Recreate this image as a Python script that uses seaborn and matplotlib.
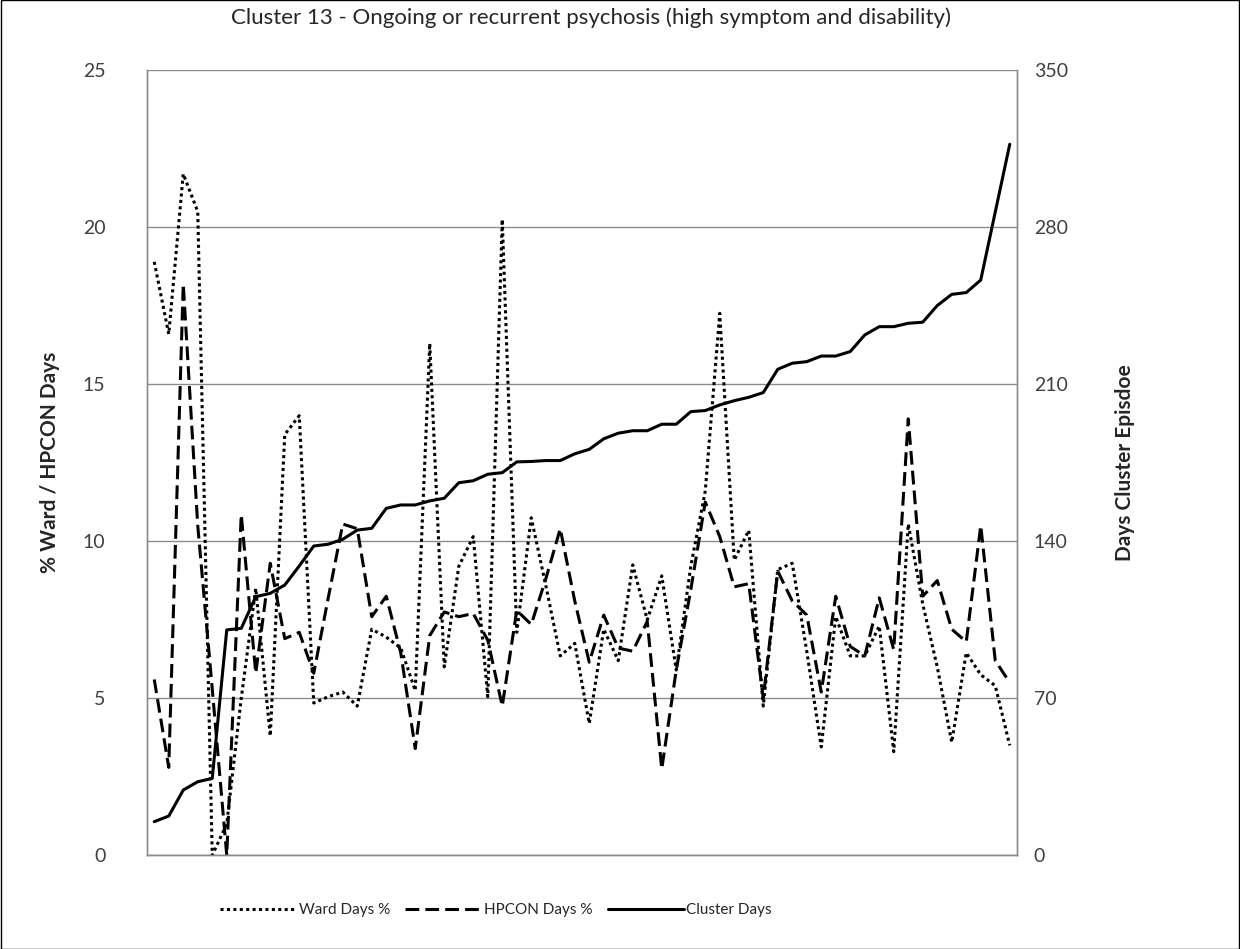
import numpy as np
import pandas as pd
import matplotlib
matplotlib.use("Agg")
import matplotlib.pyplot as plt
import seaborn as sns
from matplotlib.lines import Line2D
from matplotlib.patches import Rectangle

title = "Cluster 13 - Ongoing or recurrent psychosis (high symptom and disability)"
left_label = "% Ward / HPCON Days"
right_label = "Days Cluster Episdoe"
series_names = ["Ward Days %", "HPCON Days %", "Cluster Days"]

ward_days_pct = [18.9, 16.6, 21.7, 20.5, 0.0, 1.0, 5.0, 8.5, 3.8, 13.4,
                 14.0, 4.85, 5.05, 5.2, 4.75, 7.2, 6.95, 6.6, 5.25, 16.3,
                 6.0, 9.2, 10.15, 5.05, 20.25, 7.1, 10.75, 8.6, 6.35, 6.75,
                 4.2, 7.2, 6.2, 9.25, 7.5, 8.9, 5.9, 9.2, 11.6, 17.26,
                 9.4, 10.35, 4.75, 9.1, 9.3, 6.5, 3.45, 7.6, 6.35, 6.35,
                 7.3, 3.3, 10.55, 8.0, 6.0, 3.6, 6.45, 5.75, 5.4, 3.5]
hpcon_days_pct = [5.6, 2.8, 18.2, 10.5, 5.3, 0.0, 10.85, 5.8, 9.3, 6.9,
                  7.1, 5.8, 8.2, 10.55, 10.4, 7.6, 8.25, 6.45, 3.4, 7.0,
                  7.75, 7.6, 7.7, 6.85, 4.75, 7.8, 7.35, 8.8, 10.4, 8.1,
                  6.15, 7.65, 6.6, 6.5, 7.45, 2.75, 5.9, 8.45, 11.25, 10.15,
                  8.55, 8.65, 5.0, 9.05, 8.1, 7.65, 5.2, 8.25, 6.65, 6.35,
                  8.2, 6.55, 13.9, 8.25, 8.75, 7.2, 6.8, 10.5, 6.2, 5.5]
cluster_days = [15.0, 17.5, 29.1, 32.8, 34.3, 100.5, 101.2, 115.3, 116.8, 120.5,
                129.0, 137.9, 138.7, 140.9, 145.0, 145.8, 154.7, 156.2, 156.2, 158.0,
                159.2, 166.1, 167.0, 169.9, 170.6, 175.4, 175.6, 176.0, 176.0, 179.0,
                181.0, 185.7, 188.2, 189.3, 189.3, 192.2, 192.2, 197.8, 198.3, 200.8,
                202.7, 204.2, 206.3, 216.7, 219.4, 220.1, 222.6, 222.6, 224.6, 232.0,
                235.7, 235.7, 237.2, 237.7, 245.1, 250.1, 250.9, 256.5, 286.8, 317.0]
left_ticks = [0, 5, 10, 15, 20, 25]
right_ticks = [0, 70, 140, 210, 280, 350]

df = pd.DataFrame({
    "episode": np.arange(len(cluster_days)),
    "ward": ward_days_pct,
    "hpcon": hpcon_days_pct,
    "cluster": cluster_days,
})

sns.set_theme(style="white")
plt.rcParams["font.family"] = ["Lato", "DejaVu Sans"]

fig = plt.figure(figsize=(12.4, 9.49), dpi=100)
ax = fig.add_axes([147 / 1240, 1 - 855.3 / 949, (1017 - 147) / 1240, (855.3 - 70.3) / 949])
ax2 = ax.twinx()

lw = 2.2
dot_style = (0, (1, 1.1))
dash_style = (0, (4.5, 2))
sns.lineplot(data=df, x="episode", y="ward", ax=ax, color="black", linewidth=lw,
             linestyle=dot_style, legend=False)
sns.lineplot(data=df, x="episode", y="hpcon", ax=ax, color="black", linewidth=lw,
             linestyle=dash_style, legend=False)
sns.lineplot(data=df, x="episode", y="cluster", ax=ax2, color="black", linewidth=lw,
             linestyle="-", legend=False)

for a in (ax, ax2):
    a.set_xlim(-0.5, len(cluster_days) - 0.5)
    a.set_xlabel("")
    a.set_xticks([])
    for s in a.spines.values():
        s.set_color("#8c8c8c")
        s.set_linewidth(1.0)
    a.spines["top"].set_visible(False)

ax.set_ylim(0, 25)
ax.set_yticks(left_ticks)
ax.set_yticklabels([str(t) for t in left_ticks])
ax2.set_ylim(0, 350)
ax2.set_yticks(right_ticks)
ax2.set_yticklabels([str(t) for t in right_ticks])

ax.yaxis.grid(True, color="#8c8c8c", linewidth=1.0)
ax.set_axisbelow(True)
ax.tick_params(axis="y", length=0, pad=30, labelsize=14, colors="#404040")
ax2.tick_params(axis="y", length=0, pad=12, labelsize=14, colors="#404040")

ax.set_ylabel(left_label, fontsize=15, fontweight="bold", labelpad=16)
ax2.set_ylabel(right_label, fontsize=15, fontweight="bold", labelpad=34)

fig.text(0.477, 0.981, title, ha="center", va="center", fontsize=16)

handles = [
    Line2D([], [], color="black", linewidth=lw, linestyle=dot_style),
    Line2D([], [], color="black", linewidth=lw, linestyle=dash_style),
    Line2D([], [], color="black", linewidth=lw, linestyle="-"),
]
fig.legend(handles, series_names, loc="center", bbox_to_anchor=(0.4, 0.041),
           ncol=3, frameon=False, fontsize=11, handlelength=5.0,
           columnspacing=1.0, handletextpad=0.15)

fig.add_artist(Rectangle((0.0005, 0.0005), 0.999, 0.999, transform=fig.transFigure,
                         fill=False, edgecolor="black", linewidth=1.0))

fig.savefig("out.png", dpi=100)
